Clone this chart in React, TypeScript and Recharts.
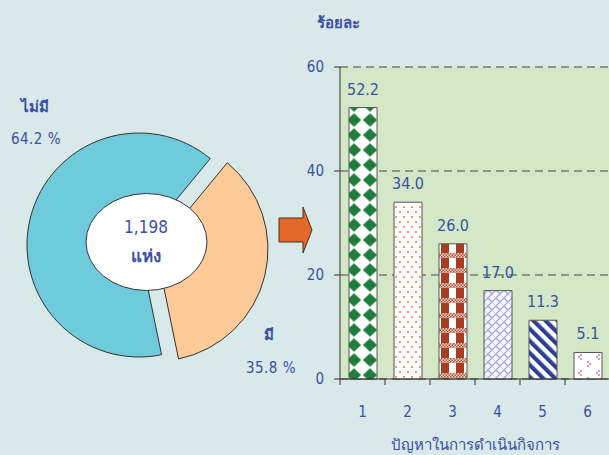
import React from 'react';
import { PieChart, Pie, Cell, BarChart, Bar, XAxis, YAxis, CartesianGrid, LabelList } from 'recharts';

// ---------- data ----------
const pieNames = ['มี', 'ไม่มี'];
const pieValues = [35.8, 64.2];
const centerTotal = '1,198';
const centerUnit = 'แห่ง';

const barCategories = ['1', '2', '3', '4', '5', '6'];
const barValues = [52.2, 34.0, 26.0, 17.0, 11.3, 5.1];
const yTicks = [0, 20, 40, 60];
const yAxisTitle = 'ร้อยละ';
const xAxisTitle = 'ปัญหาในการดำเนินกิจการ';

const pieData = pieNames.map((name, i) => ({ name, value: pieValues[i] }));
const barData = barCategories.map((cat, i) => ({ cat, value: barValues[i] }));

// ---------- styles ----------
const BLUE = '#3b50a3';
const BG = '#d9e8e8';
const PLOT_BG = '#d4e8c7';
const FONT = "'DejaVu Sans Condensed', 'DejaVu Sans', Tahoma, sans-serif";

const PIE_CX = 139;
const PIE_CY = 245;
const PIE_R = 112;
const START = 50.5;
const EXPLODE = 17.5;

const CHART_LEFT = 270;
const PLOT_TOP = 67;
const PLOT_BOTTOM = 379;
const HALF_BAND = 22.5;

const total = pieValues.reduce((a, b) => a + b, 0);
const midAngle = START - (pieValues[0] / total) * 360 / 2;
const exDx = EXPLODE * Math.cos((midAngle * Math.PI) / 180);
const exDy = -EXPLODE * Math.sin((midAngle * Math.PI) / 180);

const CatTick = (props: any) => {
  const { x, payload } = props;
  return (
    <g>
      <line x1={x - HALF_BAND} x2={x - HALF_BAND} y1={PLOT_BOTTOM} y2={PLOT_BOTTOM + 6} stroke="#333" />
      <text x={x} y={417} textAnchor="middle" fill={BLUE} fontSize={15}>
        {payload.value}
      </text>
    </g>
  );
};

export default function App() {
  return (
    <div
      style={{
        position: 'absolute',
        left: 0,
        top: 0,
        width: 609,
        height: 455,
        background: BG,
        overflow: 'hidden',
        fontFamily: FONT,
        fontStretch: 'condensed',
      }}
    >
      <div style={{ position: 'absolute', left: 0, top: 0 }}>
        <PieChart width={320} height={455} margin={{ top: 0, right: 0, bottom: 0, left: 0 }}>
          <Pie
            data={pieData}
            dataKey="value"
            cx={PIE_CX}
            cy={PIE_CY}
            outerRadius={PIE_R}
            startAngle={START}
            endAngle={START - 360}
            isAnimationActive={false}
            stroke="#333"
          >
            <Cell fill="none" stroke="none" />
            <Cell fill="#6dcbdc" stroke="#333" />
          </Pie>
          <Pie
            data={pieData}
            dataKey="value"
            cx={PIE_CX + exDx}
            cy={PIE_CY + exDy}
            outerRadius={PIE_R}
            startAngle={START}
            endAngle={START - 360}
            isAnimationActive={false}
            stroke="#333"
          >
            <Cell fill="#fdca98" stroke="#333" />
            <Cell fill="none" stroke="none" />
          </Pie>
        </PieChart>
      </div>

      <div style={{ position: 'absolute', left: CHART_LEFT, top: 0 }}>
        <BarChart
          width={350}
          height={455}
          data={barData}
          margin={{ top: PLOT_TOP, right: 10, bottom: 0, left: 0 }}
        >
          <defs>
            <pattern id="pat0" patternUnits="userSpaceOnUse" x={-4} y={-7.5} width={16} height={15}>
              <rect width={16} height={15} fill="#fff" />
              <polygon points="8,0.8 15.2,7.5 8,14.2 0.8,7.5" fill="#1f7d3d" />
            </pattern>
            <pattern id="pat1" patternUnits="userSpaceOnUse" width={8} height={10}>
              <rect width={8} height={10} fill="#fff" />
              <rect x={1} y={1} width={2} height={2} fill="#f59a68" />
              <rect x={5} y={6} width={2} height={2} fill="#f59a68" />
            </pattern>
            <pattern id="chk" patternUnits="userSpaceOnUse" width={3} height={3}>
              <rect width={3} height={3} fill="#f2dcd4" />
              <rect x={0} y={0} width={1.5} height={1.5} fill="#b24a30" />
              <rect x={1.5} y={1.5} width={1.5} height={1.5} fill="#b24a30" />
            </pattern>
            <pattern id="pat2" patternUnits="userSpaceOnUse" x={0} y={-2} width={15} height={15}>
              <rect width={15} height={15} fill="#fff" />
              <rect x={6} y={0} width={8} height={15} fill="#a63c22" />
              <rect x={0} y={0} width={15} height={5} fill="url(#chk)" />
            </pattern>
            <pattern id="pat3" patternUnits="userSpaceOnUse" width={8} height={8}>
              <rect width={8} height={8} fill="#f4f4fb" />
              <path d="M0,4 L4,0 M4,8 L8,4 M2,2 L6,6 M-1,1 L1,-1 M7,9 L9,7" stroke="#a3a3d8" strokeWidth={1.3} fill="none" />
            </pattern>
            <pattern id="pat4" patternUnits="userSpaceOnUse" width={8.5} height={8.5} patternTransform="rotate(-45)">
              <rect width={8.5} height={8.5} fill="#fff" />
              <rect x={0} y={0} width={4.2} height={8.5} fill="#2d3f94" />
            </pattern>
            <pattern id="pat5" patternUnits="userSpaceOnUse" width={18} height={16}>
              <rect width={18} height={16} fill="#fff" />
              <circle cx={5} cy={3} r={1} fill="#d472c4" />
              <circle cx={3} cy={5} r={1} fill="#d472c4" />
              <circle cx={5} cy={7} r={1} fill="#d472c4" />
              <circle cx={12} cy={10} r={1} fill="#d472c4" />
              <circle cx={14} cy={12} r={1} fill="#d472c4" />
              <circle cx={12} cy={14} r={1} fill="#d472c4" />
            </pattern>
          </defs>
          <CartesianGrid vertical={false} fill={PLOT_BG} stroke="#444" strokeDasharray="8 5" />
          <XAxis
            dataKey="cat"
            height={76}
            axisLine={{ stroke: '#333' }}
            tickLine={false}
            tick={<CatTick />}
            interval={0}
          />
          <YAxis
            domain={[0, 60]}
            ticks={yTicks}
            width={70}
            tickSize={6}
            tickMargin={10}
            axisLine={{ stroke: '#333' }}
            tickLine={{ stroke: '#333' }}
            tick={{ fill: BLUE, fontSize: 15 }}
          />
          <Bar dataKey="value" barSize={28} stroke="#555" isAnimationActive={false}>
            {barData.map((d, i) => (
              <Cell key={d.cat} fill={`url(#pat${i})`} />
            ))}
            <LabelList
              dataKey="value"
              position="top"
              offset={13}
              formatter={(v: any) => Number(v).toFixed(1)}
              fill={BLUE}
              fontSize={16}
            />
          </Bar>
        </BarChart>
      </div>

      <svg width={609} height={455} style={{ position: 'absolute', left: 0, top: 0 }}>
        <ellipse cx={146.5} cy={242} rx={60.5} ry={48.5} fill="#fff" stroke="#333" />
        <text x={146} y={233} textAnchor="middle" fontSize={17} fill={BLUE}>
          {centerTotal}
        </text>
        <text x={146} y={262} textAnchor="middle" fontSize={17} fontWeight="bold" fill={BLUE}>
          {centerUnit}
        </text>
        <text x={35} y={112} textAnchor="middle" fontSize={15} fontWeight="bold" fill={BLUE}>
          {pieNames[1]}
        </text>
        <text x={36} y={144} textAnchor="middle" fontSize={15} fill={BLUE} letterSpacing={0.5}>
          {`${pieValues[1].toFixed(1)}  %`}
        </text>
        <text x={269} y={340} textAnchor="middle" fontSize={15} fontWeight="bold" fill={BLUE}>
          {pieNames[0]}
        </text>
        <text x={271} y={373} textAnchor="middle" fontSize={15} fill={BLUE} letterSpacing={0.5}>
          {`${pieValues[0].toFixed(1)}  %`}
        </text>
        <polygon
          points="279,218 303,218 303,207 312,230 303,253 303,242 279,242"
          fill="#e2692a"
          stroke="#4a3020"
        />
        <text x={338} y={28} textAnchor="middle" fontSize={15} fontWeight="bold" fill={BLUE}>
          {yAxisTitle}
        </text>
        <text x={475} y={450} textAnchor="middle" fontSize={15} fill={BLUE}>
          {xAxisTitle}
        </text>
      </svg>
    </div>
  );
}
